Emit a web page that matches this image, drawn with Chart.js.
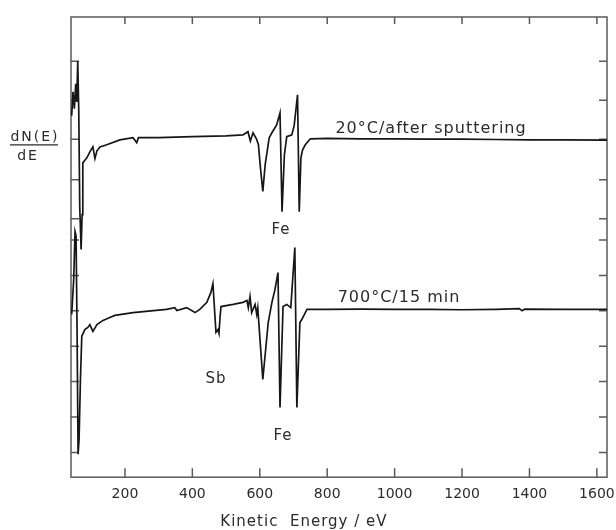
<!DOCTYPE html>
<html>
<head>
<meta charset="utf-8">
<script src="https://cdn.jsdelivr.net/npm/chart.js@4.4.1/dist/chart.umd.min.js"></script>
<style>
  html, body { margin: 0; padding: 0; background: #fff; }
  #wrap { width: 616px; height: 530px; }
</style>
</head>
<body>
<div id="wrap"><canvas id="augerChart" width="616" height="530"></canvas></div>
<script>
// Auger spectra, dN(E)/dE in arbitrary units (each curve has its own offset)
const energySputtered = [42, 46, 50, 54, 57, 60, 63, 66, 70, 73, 75, 80, 87, 96, 105, 111, 117, 126, 146, 185,
  224, 235, 240, 300, 400, 500, 550, 565, 572, 580, 590, 596, 602, 609, 616, 628, 636, 650, 660, 666,
  673, 680, 695, 702, 712, 717, 722, 727, 735, 750, 800, 900, 1000, 1100, 1200, 1300, 1400, 1500, 1630];
const signalSputtered = [10.21, 10.89, 10.41, 11.11, 10.60, 11.76, 10.38, 7.61, 6.43, 7.42, 8.88, 8.94, 9.02, 9.19, 9.33, 9.00, 9.22, 9.33, 9.39, 9.53,
  9.59, 9.45, 9.59, 9.59, 9.62, 9.64, 9.67, 9.76, 9.50, 9.73, 9.56, 9.39, 8.74, 8.07, 8.83, 9.59, 9.73, 9.95, 10.29, 7.50,
  9.11, 9.62, 9.67, 9.93, 10.80, 7.50, 9.02, 9.25, 9.39, 9.56, 9.57, 9.56, 9.56, 9.55, 9.55, 9.54, 9.53, 9.53, 9.52];

const energyAnnealed = [42, 48, 52, 55, 58, 61, 64, 68, 72, 81, 90, 96, 105, 117, 135, 155, 170, 224, 323, 348,
  354, 383, 408, 422, 443, 455, 461, 470, 476, 479, 482, 485, 521, 550, 562, 566, 571, 576, 586, 591,
  594, 609, 625, 636, 645, 654, 660, 669, 680, 692, 704, 710, 719, 725, 740, 800, 900, 1000, 1100, 1200,
  1300, 1370, 1378, 1386, 1500, 1630];
const signalAnnealed = [4.60, 5.58, 6.94, 6.82, 4.17, 0.65, 1.07, 2.76, 3.98, 4.17, 4.23, 4.31, 4.12, 4.31, 4.43, 4.51, 4.57, 4.65, 4.74, 4.79,
  4.71, 4.79, 4.65, 4.74, 4.94, 5.22, 5.47, 4.09, 4.17, 4.06, 4.51, 4.82, 4.88, 4.94, 4.99, 4.79, 5.10, 4.65, 4.88, 4.60,
  4.79, 2.76, 4.37, 4.94, 5.30, 5.78, 1.97, 4.82, 4.88, 4.79, 6.49, 1.97, 4.37, 4.46, 4.74, 4.74, 4.75, 4.74, 4.74, 4.73,
  4.74, 4.76, 4.70, 4.75, 4.74, 4.74];

const xTickValues = [200, 400, 600, 800, 1000, 1200, 1400, 1600];
const yTickValues = [0.7, 1.7, 2.7, 3.7, 4.7, 5.7, 6.7, 7.3, 8.4, 9.55, 10.65, 11.75];
const curveNames = ['20°C/after sputtering', '700°C/15 min'];
const peakNames = ['Fe', 'Sb', 'Fe'];
const xTitle = 'Kinetic  Energy / eV';

const toPoints = (xs, ys) => xs.map((e, i) => ({ x: e, y: ys[i] }));
const textColor = '#2b2b2b';

const framePlugin = {
  id: 'frame',
  beforeDatasetsDraw(chart) {
    const { ctx, chartArea: a, scales: { x, y } } = chart;
    ctx.save();
    ctx.strokeStyle = '#5a5a5a';
    ctx.lineWidth = 1.5;
    ctx.strokeRect(a.left, a.top, a.right - a.left, a.bottom - a.top);
    ctx.beginPath();
    xTickValues.forEach(v => {
      const px = x.getPixelForValue(v);
      ctx.moveTo(px, a.bottom); ctx.lineTo(px, a.bottom - 9);
      ctx.moveTo(px, a.top); ctx.lineTo(px, a.top + 7);
    });
    yTickValues.forEach(v => {
      const py = y.getPixelForValue(v);
      ctx.moveTo(a.left, py); ctx.lineTo(a.left + 8, py);
      ctx.moveTo(a.right, py); ctx.lineTo(a.right - 8, py);
    });
    ctx.stroke();
    ctx.restore();
  },
  afterDatasetsDraw(chart) {
    const { ctx, chartArea: a, scales: { x, y } } = chart;
    ctx.save();
    ctx.fillStyle = textColor;
    ctx.textAlign = 'center';
    ctx.textBaseline = 'alphabetic';
    ctx.font = '16px "DejaVu Sans"';
    ctx.letterSpacing = '1px';
    ctx.fillText(curveNames[0], x.getPixelForValue(1108), y.getPixelForValue(9.73));
    ctx.fillText(curveNames[1], x.getPixelForValue(1013), y.getPixelForValue(4.94));

    ctx.textBaseline = 'middle';
    ctx.font = '15px "DejaVu Sans"';
    ctx.fillText(peakNames[0], x.getPixelForValue(663), y.getPixelForValue(6.99));
    ctx.fillText(peakNames[1], x.getPixelForValue(470), y.getPixelForValue(2.76));
    ctx.fillText(peakNames[2], x.getPixelForValue(669), y.getPixelForValue(1.16));

    // x axis title, sits a bit left of centre in the original
    ctx.fillText(xTitle, x.getPixelForValue(731), a.bottom + 45);

    // y axis label as a fraction dN(E)/dE
    const cx = a.left - 37;
    const lineY = y.getPixelForValue(9.39);
    ctx.font = '14px "DejaVu Sans"';
    ctx.letterSpacing = '2px';
    ctx.textBaseline = 'alphabetic';
    ctx.fillText('dN(E)', cx + 1, lineY - 4);
    ctx.textBaseline = 'top';
    ctx.fillText('dE', cx - 6, lineY + 5);
    ctx.strokeStyle = textColor;
    ctx.lineWidth = 1.2;
    ctx.beginPath();
    ctx.moveTo(cx - 24, lineY);
    ctx.lineTo(cx + 24, lineY);
    ctx.stroke();
    ctx.restore();
  }
};

const lineStyle = {
  borderColor: '#161616',
  borderWidth: 1.7,
  pointRadius: 0,
  tension: 0,
  fill: false
};

new Chart(document.getElementById('augerChart'), {
  type: 'line',
  data: {
    datasets: [
      Object.assign({ label: curveNames[0], data: toPoints(energySputtered, signalSputtered) }, lineStyle),
      Object.assign({ label: curveNames[1], data: toPoints(energyAnnealed, signalAnnealed) }, lineStyle)
    ]
  },
  options: {
    responsive: false,
    animation: false,
    layout: { padding: { left: 71, right: 9, top: 17, bottom: 18 } },
    plugins: {
      legend: { display: false },
      tooltip: { enabled: false }
    },
    scales: {
      x: {
        type: 'linear',
        min: 40,
        max: 1630,
        grid: { display: false, drawTicks: false },
        border: { display: false },
        afterBuildTicks: s => { s.ticks = xTickValues.map(v => ({ value: v })); },
        afterFit: s => { s.paddingLeft = 0; s.paddingRight = 0; },
        ticks: {
          callback: v => String(v),
          font: { family: 'DejaVu Sans', size: 14 },
          color: textColor,
          padding: 9,
          maxRotation: 0,
          autoSkip: false
        },
        title: { display: false }
      },
      y: {
        type: 'linear',
        display: false,
        min: 0,
        max: 13
      }
    }
  },
  plugins: [framePlugin]
});
</script>
</body>
</html>
